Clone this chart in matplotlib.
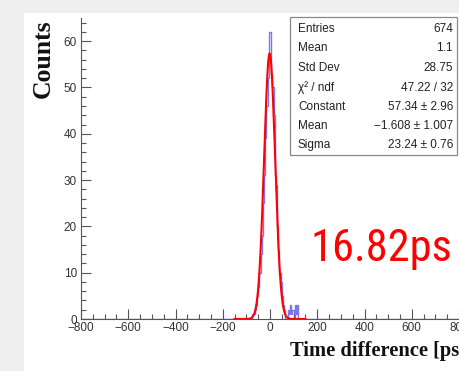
import numpy as np
import matplotlib
matplotlib.use("Agg")
import matplotlib.pyplot as plt
from matplotlib.patches import Rectangle
from matplotlib import font_manager

# histogram: 5 ps bins, only the non-empty region listed (rest of -800..800 is zero)
bin_width = 5
first_edge = -80
counts = [0, 1, 1, 2, 3, 5, 7, 10, 14, 18, 25, 31, 39, 46, 52, 62, 62, 53, 50, 44,
          31, 29, 20, 15, 10, 8, 5, 3, 2, 0, 0, 2, 1, 3, 1, 2, 0, 3, 1, 3, 0]

# gaussian fit results shown in the stats box
fit_const = 57.34
fit_mean = -1.608
fit_sigma = 23.24
fit_range = (-150, 150)

stat_labels = ["Entries", "Mean", "Std Dev", "\u03c7\u00b2 / ndf", "Constant", "Mean", "Sigma"]
stat_values = ["674", "1.1", "28.75", "47.22 / 32", "57.34 \u00b1 2.96",
               "\u22121.608 \u00b1 1.007", "23.24 \u00b1 0.76"]

W, H = 459, 371
fig = plt.figure(figsize=(W / 100, H / 100), dpi=100, facecolor='#efefef')

def fx(px):
    return px / W

def fy(py):
    return 1 - py / H

# white canvas over the grey screenshot border
fig.patches.append(Rectangle((fx(24), 0), 1 - fx(24), fy(13), transform=fig.transFigure,
                             facecolor='white', edgecolor='none', zorder=-10))

ax = fig.add_axes([fx(81), fy(319), fx(459) - fx(81), fy(18) - fy(319)])
ax.set_facecolor('none')

edges = np.arange(-800, 800 + bin_width, bin_width)
full = np.zeros(len(edges) - 1)
i0 = int((first_edge + 800) / bin_width)
full[i0:i0 + len(counts)] = counts
ax.stairs(full, edges, color='#7878e8', lw=1.0)

xf = np.linspace(fit_range[0], fit_range[1], 400)
yf = fit_const * np.exp(-0.5 * ((xf - fit_mean) / fit_sigma) ** 2)
ax.plot(xf, yf, color='#ff0000', lw=1.5)

ax.set_xlim(-800, 800)
ax.set_ylim(0, 65)
ax.set_xticks(np.arange(-800, 801, 200))
ax.set_xticks(np.arange(-800, 801, 50), minor=True)
ax.set_yticks(np.arange(0, 61, 10))
ax.set_yticks(np.arange(0, 65, 2), minor=True)
ax.set_xticklabels(['\u2212800', '\u2212600', '\u2212400', '\u2212200', '0', '200', '400', '600', '800'])
for s in ['top', 'right']:
    ax.spines[s].set_visible(False)
for s in ['left', 'bottom']:
    ax.spines[s].set_color('#555555')
    ax.spines[s].set_linewidth(0.8)
ax.tick_params(which='both', direction='in', colors='#555555', labelcolor='#333333',
               labelsize=8.5, width=0.8)
ax.tick_params(which='major', length=7)
ax.tick_params(which='minor', length=3.5)
ax.tick_params(axis='x', pad=2)
ax.tick_params(axis='y', pad=3)
for lab in ax.get_xticklabels() + ax.get_yticklabels():
    lab.set_family('Liberation Sans')

# stats box
fig.patches.append(Rectangle((fx(290), fy(155)), fx(457) - fx(290), fy(17) - fy(155),
                             transform=fig.transFigure, facecolor='white',
                             edgecolor='#888888', lw=0.9, zorder=5))
row_y = [29, 48, 68, 88, 107, 126, 145]
for lab, val, y in zip(stat_labels, stat_values, row_y):
    fig.text(fx(298), fy(y), lab, fontsize=8.5, family='Liberation Sans', color='#222222',
             ha='left', va='center', zorder=6)
    fig.text(fx(453), fy(y), val, fontsize=8.5, family='Liberation Sans', color='#222222',
             ha='right', va='center', zorder=6)

fig.text(fx(43), fy(59), 'Counts', rotation=90, fontsize=18.5, family='Liberation Serif',
         weight='bold', ha='center', va='center', color='#111111')
fig.text(fx(290), fy(351), 'Time difference [ps]', fontsize=14.8, family='Liberation Serif',
         weight='bold', ha='left', va='center', color='#111111')

# big red label: prefer a condensed face if one is installed
installed = {f.name for f in font_manager.fontManager.ttflist}
big_font, big_size = 'Lato', 27
for name, size in [('Roboto Condensed', 32), ('Open Sans Condensed', 32),
                   ('Liberation Sans Narrow', 31), ('DejaVu Sans Condensed', 28)]:
    if name in installed:
        big_font, big_size = name, size
        break
fig.text(fx(310), fy(261), '16.82ps', fontsize=big_size, family=big_font,
         color='#ff0000', ha='left', va='baseline')

fig.savefig('out.png', dpi=100, facecolor=fig.get_facecolor())
